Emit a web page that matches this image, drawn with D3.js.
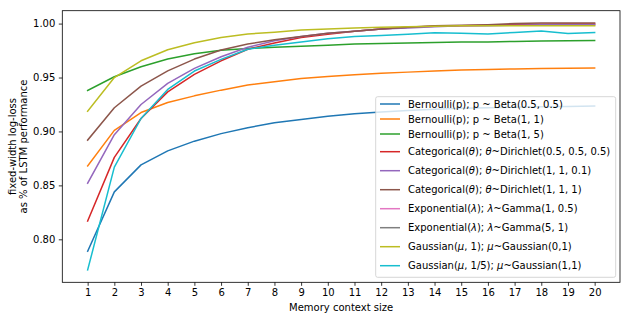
<!DOCTYPE html>
<html>
<head>
<meta charset="utf-8">
<script src="https://cdn.jsdelivr.net/npm/d3@7"></script>
<style>
  body { margin: 0; background: #fff; }
  text { font-family: "DejaVu Sans", sans-serif; }
</style>
</head>
<body>
<div id="root"></div>
<script>
const width = 630;
const height = 320;

const contextSizes = d3.range(1, 21);

const labels = [
  "Bernoulli(p); p ~ Beta(0.5, 0.5)",
  "Bernoulli(p); p ~ Beta(1, 1)",
  "Bernoulli(p); p ~ Beta(1, 5)",
  "Categorical(θ); θ~Dirichlet(0.5, 0.5, 0.5)",
  "Categorical(θ); θ~Dirichlet(1, 1, 0.1)",
  "Categorical(θ); θ~Dirichlet(1, 1, 1)",
  "Exponential(λ); λ~Gamma(1, 0.5)",
  "Exponential(λ); λ~Gamma(5, 1)",
  "Gaussian(μ, 1); μ~Gaussian(0,1)",
  "Gaussian(μ, 1/5); μ~Gaussian(1,1)"
];

const colors = ["#1f77b4", "#ff7f0e", "#2ca02c", "#d62728", "#9467bd",
                "#8c564b", "#e377c2", "#7f7f7f", "#bcbd22", "#17becf"];

const bernoulliHalf = [0.789, 0.844, 0.869, 0.882, 0.891, 0.898, 0.9035, 0.908, 0.911, 0.914,
                       0.9165, 0.918, 0.9195, 0.9205, 0.9215, 0.922, 0.9225, 0.923, 0.9232, 0.9235];
const bernoulliOne = [0.868, 0.901, 0.9175, 0.9268, 0.933, 0.9383, 0.943, 0.946, 0.949, 0.951,
                      0.9525, 0.954, 0.955, 0.956, 0.957, 0.9575, 0.958, 0.9583, 0.9585, 0.9588];
const bernoulliFive = [0.938, 0.9507, 0.960, 0.9671, 0.972, 0.9752, 0.977, 0.978, 0.979, 0.980,
                       0.981, 0.9815, 0.982, 0.9825, 0.983, 0.983, 0.9835, 0.9838, 0.984, 0.9842];
const catHalf = [0.817, 0.876, 0.912, 0.9367, 0.9529, 0.9655, 0.9762, 0.982, 0.987, 0.990,
                 0.993, 0.995, 0.9965, 0.9975, 0.998, 0.9985, 0.999, 0.9993, 0.9995, 0.9997];
const catTenth = [0.852, 0.897, 0.925, 0.9445, 0.9585, 0.9693, 0.978, 0.984, 0.988, 0.991,
                  0.993, 0.995, 0.996, 0.997, 0.998, 0.998, 0.9985, 0.999, 0.999, 0.999];
const catOne = [0.892, 0.922, 0.942, 0.9562, 0.9671, 0.9755, 0.981, 0.985, 0.988, 0.991,
                0.993, 0.995, 0.9965, 0.998, 0.9985, 0.999, 1.0, 1.0005, 1.0005, 1.0005];
const expHalf = [];
const expFive = [];
const gaussOne = [0.9187, 0.950, 0.9655, 0.9758, 0.9823, 0.987, 0.9904, 0.992, 0.994, 0.995,
                  0.996, 0.9965, 0.997, 0.9975, 0.998, 0.998, 0.998, 0.998, 0.998, 0.998];
const gaussFifth = [0.7716, 0.8669, 0.912, 0.939, 0.956, 0.9668, 0.9762, 0.980, 0.983, 0.986,
                    0.988, 0.989, 0.990, 0.9915, 0.991, 0.9904, 0.9918, 0.9932, 0.9907, 0.9916];

const series = [bernoulliHalf, bernoulliOne, bernoulliFive, catHalf, catTenth, catOne,
                expHalf, expFive, gaussOne, gaussFifth];

const yTicks = [0.80, 0.85, 0.90, 0.95, 1.00];

const margin = {left: 62.3, right: 10, top: 10.7, bottom: 37.7};

const svg = d3.select("#root").append("svg")
  .attr("width", width)
  .attr("height", height);

// matplotlib style 5% margins
const x = d3.scaleLinear()
  .domain([1 - 0.95, 20 + 0.95])
  .range([margin.left, width - margin.right]);

const allVals = series.flat();
const yMin = d3.min(allVals), yMax = d3.max(allVals);
const yPad = (yMax - yMin) * 0.05;
const y = d3.scaleLinear()
  .domain([yMin - yPad, yMax + yPad])
  .range([height - margin.bottom, margin.top]);

const line = d3.line()
  .x((d, i) => x(contextSizes[i]))
  .y(d => y(d));

svg.selectAll("path.series")
  .data(series)
  .enter()
  .append("path")
  .attr("class", "series")
  .attr("d", d => d.length ? line(d) : null)
  .attr("fill", "none")
  .attr("stroke", (d, i) => colors[i])
  .attr("stroke-width", 1.5)
  .attr("stroke-linejoin", "round")
  .attr("stroke-linecap", "square");

// axes
const xAxis = svg.append("g")
  .attr("transform", `translate(0,${height - margin.bottom})`)
  .call(d3.axisBottom(x).tickValues(contextSizes).tickSize(3.5).tickPadding(3.5).tickFormat(d3.format("d")));

const yAxis = svg.append("g")
  .attr("transform", `translate(${margin.left},0)`)
  .call(d3.axisLeft(y).tickValues(yTicks).tickSize(3.5).tickPadding(3.5).tickFormat(d3.format(".2f")));

[xAxis, yAxis].forEach(a => {
  a.select(".domain").remove();
  a.selectAll("line").attr("stroke", "#000").attr("stroke-width", 0.8);
  a.selectAll("text").attr("font-size", "10px").attr("fill", "#000")
    .attr("font-family", "DejaVu Sans");
});

svg.append("rect")
  .attr("x", margin.left)
  .attr("y", margin.top)
  .attr("width", width - margin.right - margin.left)
  .attr("height", height - margin.bottom - margin.top)
  .attr("fill", "none")
  .attr("stroke", "#000")
  .attr("stroke-width", 0.8);

// labels
svg.append("text")
  .attr("x", (margin.left + width - margin.right) / 2)
  .attr("y", 311)
  .attr("text-anchor", "middle")
  .attr("font-size", "10px")
  .text("Memory context size");

const yLabel = svg.append("text")
  .attr("transform", `translate(15.5,${(margin.top + height - margin.bottom) / 2}) rotate(-90)`)
  .attr("text-anchor", "middle")
  .attr("font-size", "10px");
yLabel.append("tspan").attr("x", 0).attr("dy", 0).text("fixed-width log-loss");
yLabel.append("tspan").attr("x", 0).attr("dy", 11.5).text("as % of LSTM performance");

// legend
const legend = svg.append("g").attr("id", "legend");
const greek = /[θλμ]/;

// rows holding math text sit a little further apart, as in mathtext
const rowY = [];
let cy = 104;
labels.forEach((l, i) => {
  if (i > 0) {
    if (!greek.test(l)) cy += 15;
    else if (!greek.test(labels[i - 1])) cy += 17.7;
    else cy += 19;
  }
  rowY.push(cy);
});

legend.append("rect")
  .attr("x", 375.7)
  .attr("y", 96.7)
  .attr("width", 240)
  .attr("height", rowY[rowY.length - 1] - 96.7 + 11.6)
  .attr("rx", 2)
  .attr("fill", "#fff")
  .attr("fill-opacity", 0.8)
  .attr("stroke", "#cccccc")
  .attr("stroke-width", 0.8);

const items = legend.selectAll("g.item")
  .data(labels)
  .enter()
  .append("g")
  .attr("class", "item")
  .attr("transform", (d, i) => `translate(380,${rowY[i]})`);

items.append("line")
  .attr("x1", 0).attr("x2", 20)
  .attr("stroke", (d, i) => colors[i])
  .attr("stroke-width", 1.5);

items.append("text")
  .attr("x", 28)
  .attr("dy", "0.36em")
  .attr("font-size", "10px")
  .each(function(d) {
    const t = d3.select(this);
    d.split(/([θλμ])/).forEach(part => {
      if (!part) return;
      const ts = t.append("tspan").text(part);
      if (greek.test(part)) ts.attr("font-style", "italic");
    });
  });
</script>
</body>
</html>
